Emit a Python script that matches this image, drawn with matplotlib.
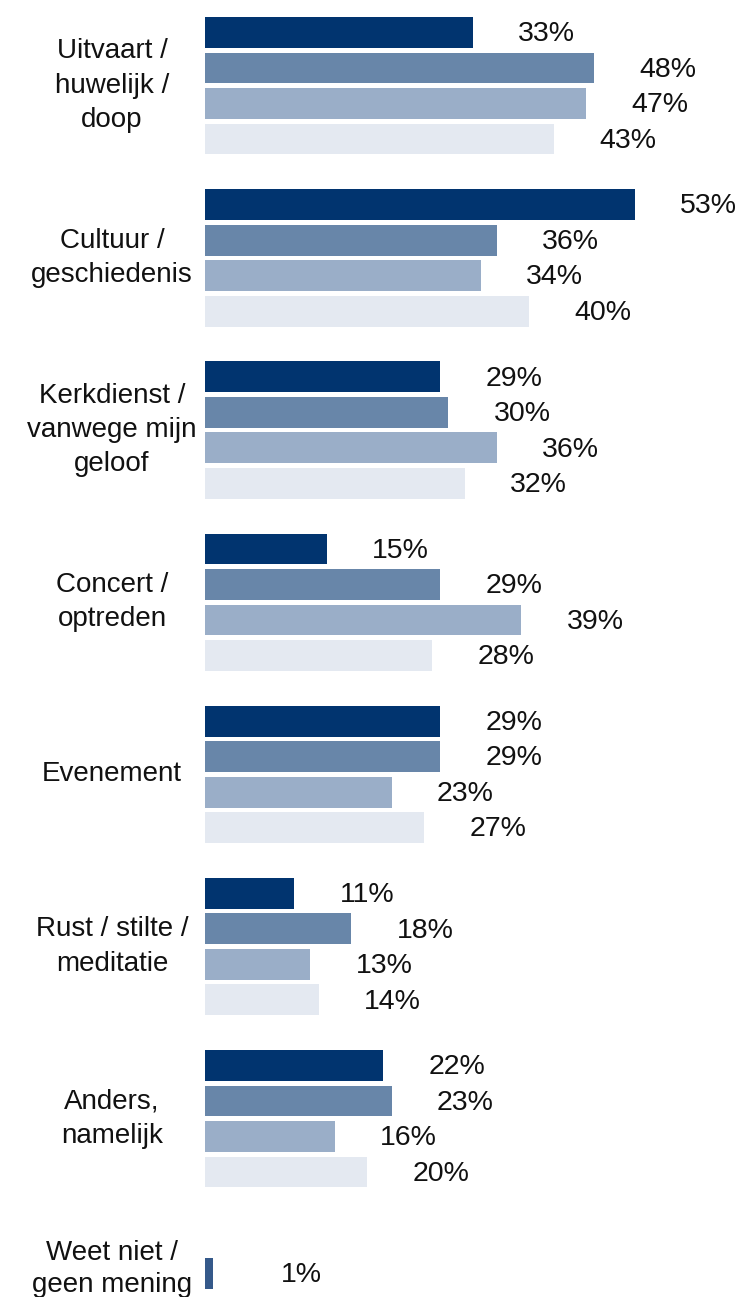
import numpy as np
import matplotlib.pyplot as plt

plt.rcParams['font.family'] = ['Liberation Sans', 'DejaVu Sans']

# --- data ---
categories = [
    "Uitvaart /\nhuwelijk /\ndoop",
    "Cultuur /\ngeschiedenis",
    "Kerkdienst /\nvanwege mijn\ngeloof",
    "Concert /\noptreden",
    "Evenement",
    "Rust / stilte /\nmeditatie",
    "Anders,\nnamelijk",
    "Weet niet /\ngeen mening",
]
series_1 = [33, 53, 29, 15, 29, 11, 22, None]
series_2 = [48, 36, 30, 29, 29, 18, 23, 1]
series_3 = [47, 34, 36, 39, 23, 13, 16, None]
series_4 = [43, 40, 32, 28, 27, 14, 20, None]
all_series = [series_1, series_2, series_3, series_4]

colors = ['#01346f', '#6886a9', '#9aaec8', '#e4e9f1']
single_color = '#35598a'  # the lone "weet niet" bar

# --- layout (in units of one bar slot) ---
group_step = 4.85
bar_h = 0.87

fig = plt.figure(figsize=(7.41, 12.97), dpi=100)
ax = fig.add_axes([205 / 741, 0, 536 / 741, 1])

label_offset = 5.6
cat_x = (112 - 205) / 536  # centre of the label column, axes coords
for g, cat in enumerate(categories):
    ys = []
    n_present = sum(s[g] is not None for s in all_series)
    for s_idx, s in enumerate(all_series):
        v = s[g]
        if v is None:
            continue
        y = g * group_step + s_idx
        ys.append(y)
        c = colors[s_idx] if n_present > 1 else single_color
        ax.barh(y, v, height=bar_h, color=c, edgecolor='none')
        off = label_offset if n_present > 1 else label_offset * 1.5
        ax.text(v + off, y + 0.05, f"{v}%", ha='left', va='center',
                fontsize=20.5, color='#111111')
    if n_present == 4:
        yc = g * group_step + 1.5
        ls = 1.42
    else:
        yc = np.mean(ys) - 0.12
        ls = 1.3
    ax.text(cat_x, yc, cat, transform=ax.get_yaxis_transform(),
            ha='center', va='center', multialignment='center',
            fontsize=20, color='#111111', linespacing=ls)

ax.set_xlim(0, 536 / 8.11)
ax.set_ylim(35.62, -0.915)
ax.axis('off')

fig.savefig('out.png', dpi=100)
